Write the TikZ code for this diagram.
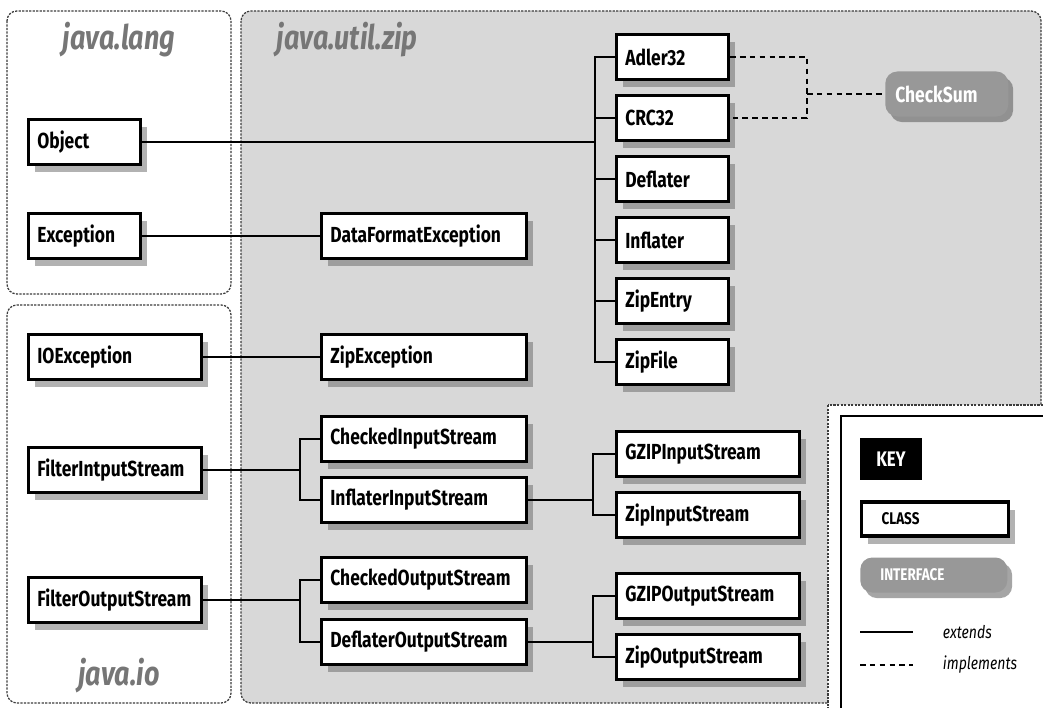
\documentclass[tikz,border=0pt]{standalone}
\usepackage{fontspec}
\setmainfont{Fira Sans}
\newfontfamily\clsfont{Fira Sans}[FakeStretch=0.8]
\usetikzlibrary{positioning,shadows}
\definecolor{zipgray}{RGB}{216,216,216}
\definecolor{pkgdraw}{RGB}{60,60,60}
\definecolor{pkgtext}{RGB}{118,118,118}
\definecolor{ifacefill}{RGB}{152,152,152}

\begin{document}
\begin{tikzpicture}[x=0.025cm, y=-0.025cm,
  pkg/.style={draw=pkgdraw, line width=0.9pt, dash pattern=on 1.6pt off 0.9pt, rounded corners=7pt},
  pkglbl/.style={font={\clsfont\bfseries\itshape\fontsize{24}{26}\selectfont}, text=pkgtext},
  cls/.style={draw=black, line width=2.2pt, fill=white, anchor=west, minimum height=1.125cm, inner xsep=0.22cm, text width=#1, align=left,
    font={\clsfont\bfseries\fontsize{15.5}{17}\selectfont}, drop shadow={shadow xshift=0.17cm, shadow yshift=-0.19cm, fill=black!60}},
  iface/.style={fill=ifacefill, text=white, rounded corners=0.3cm, anchor=west, minimum height=1.125cm, inner xsep=0.25cm, text width=#1, align=left,
    font={\clsfont\bfseries\fontsize{15.5}{17}\selectfont}, drop shadow={shadow xshift=0.12cm, shadow yshift=-0.14cm, fill=black!70}},
  ext/.style={line width=1.6pt, black},
  impl/.style={line width=1.1pt, black, dash pattern=on 4pt off 3pt},
  keytxt/.style={font={\clsfont\itshape\fontsize{12.5}{14}\selectfont}, anchor=west},
]
\useasboundingbox (0,0) rectangle (1043,708);
\clip (0,0) rectangle (1043,708);

% ============ packages ============
\draw[pkg] (7,11) rectangle (231,294);
\draw[pkg] (7,305) rectangle (231,703);
\draw[pkg, fill=zipgray] (241,11) rectangle (1041,703);
\draw[pkg, fill=white, sharp corners] (828,405) rectangle (1060,720);
\draw[line width=1.4pt] (841,416) rectangle (1060,720);

\node[pkglbl] (langlbl) at (119,40) {java.lang};
\node[pkglbl, anchor=west] (ziplbl) at (272,40) {java.util.zip};
\node[pkglbl] (iolbl) at (119,676) {java.io};

% ============ java.lang / java.io ============
\node[cls=2.36cm] (obj) at (27,142) {Object};
\node[cls=2.36cm] (exc) at (27,236) {Exception};
\node[cls=3.885cm] (ioe) at (27,357) {IOException};
\node[cls=3.885cm] (fis) at (27,470) {FilterIntputStream};
\node[cls=3.885cm] (fos) at (27,600) {FilterOutputStream};

% ============ java.util.zip ============
\node[cls=4.685cm] (dfe)  at (320,236) {DataFormatException};
\node[cls=4.685cm] (zipe) at (320,357) {ZipException};
\node[cls=4.685cm] (cis)  at (320,439) {CheckedInputStream};
\node[cls=4.685cm] (iis)  at (320,500) {InflaterInputStream};
\node[cls=4.685cm] (cos)  at (320,580) {CheckedOutputStream};
\node[cls=4.685cm] (dos)  at (320,642) {DeflaterOutputStream};

\node[cls=2.36cm] (adler) at (615,57)  {Adler32};
\node[cls=2.36cm] (crc)   at (615,118) {CRC32};
\node[cls=2.36cm] (defl)  at (615,179) {Deflater};
\node[cls=2.36cm] (infl)  at (615,240) {Inflater};
\node[cls=2.36cm] (zent)  at (615,301) {ZipEntry};
\node[cls=2.36cm] (zfile) at (615,362) {ZipFile};

\node[cls=4.135cm] (gzis) at (615,454) {GZIPInputStream};
\node[cls=4.135cm] (zis)  at (615,515) {ZipInputStream};
\node[cls=4.135cm] (gzos) at (615,596) {GZIPOutputStream};
\node[cls=4.135cm] (zos)  at (615,657) {ZipOutputStream};

\node[iface=2.575cm] (cksum) at (885,94) {CheckSum};

% ============ extends ============
\coordinate (zbus) at (595,0);
\coordinate (sbus) at (300,0);
\coordinate (gbus) at (593,0);
\draw[ext] (adler.west) -- (adler.west -| zbus) -- (zfile.west -| zbus) -- (zfile.west);
\foreach \c in {crc,defl,infl,zent} \draw[ext] (\c.west) -- (\c.west -| zbus);
\draw[ext] (obj.east) -- (obj.east -| zbus);
\draw[ext] (exc.east) -- (dfe.west);
\draw[ext] (ioe.east) -- (zipe.west);
\draw[ext] (cis.west) -| (sbus |- fis.east) |- (iis.west);
\draw[ext] (fis.east) -- (fis.east -| sbus);
\draw[ext] (cos.west) -| (sbus |- fos.east) |- (dos.west);
\draw[ext] (fos.east) -- (fos.east -| sbus);
\draw[ext] (gzis.west) -| (gbus |- iis.east) |- (zis.west);
\draw[ext] (iis.east) -- (iis.east -| gbus);
\draw[ext] (gzos.west) -| (gbus |- dos.east) |- (zos.west);
\draw[ext] (dos.east) -- (dos.east -| gbus);

% ============ implements ============
\coordinate (ibus) at (807,0);
\draw[impl] (adler.east) -| (ibus |- crc.east) -- (crc.east);
\draw[impl] (ibus |- cksum.west) -- (cksum.west);

% ============ key ============
\node[fill=black, text=white, font={\clsfont\bfseries\fontsize{15}{17}\selectfont}, minimum width=1.55cm, minimum height=1.025cm] (keyhd) at (891,459) {KEY};
\node[cls=2.675cm, inner xsep=0.5cm, minimum height=0.85cm, font={\clsfont\bfseries\fontsize{12}{14}\selectfont}] (keycls) at (860,519) {CLASS};
\node[iface=2.675cm, inner xsep=0.5cm, minimum height=0.875cm, font={\clsfont\bfseries\fontsize{12}{14}\selectfont}] (keyif) at (860,575) {INTERFACE};
\coordinate (kext1) at (860,632); \coordinate (kext2) at (913,632);
\coordinate (kimp1) at (860,665); \coordinate (kimp2) at (913,665);
\draw[ext] (kext1) -- (kext2);
\draw[impl] (kimp1) -- (kimp2);
\node[keytxt] (kextlbl) at (938,632) {extends};
\node[keytxt] (kimplbl) at (938,665) {implements};
\end{tikzpicture}
\end{document}
